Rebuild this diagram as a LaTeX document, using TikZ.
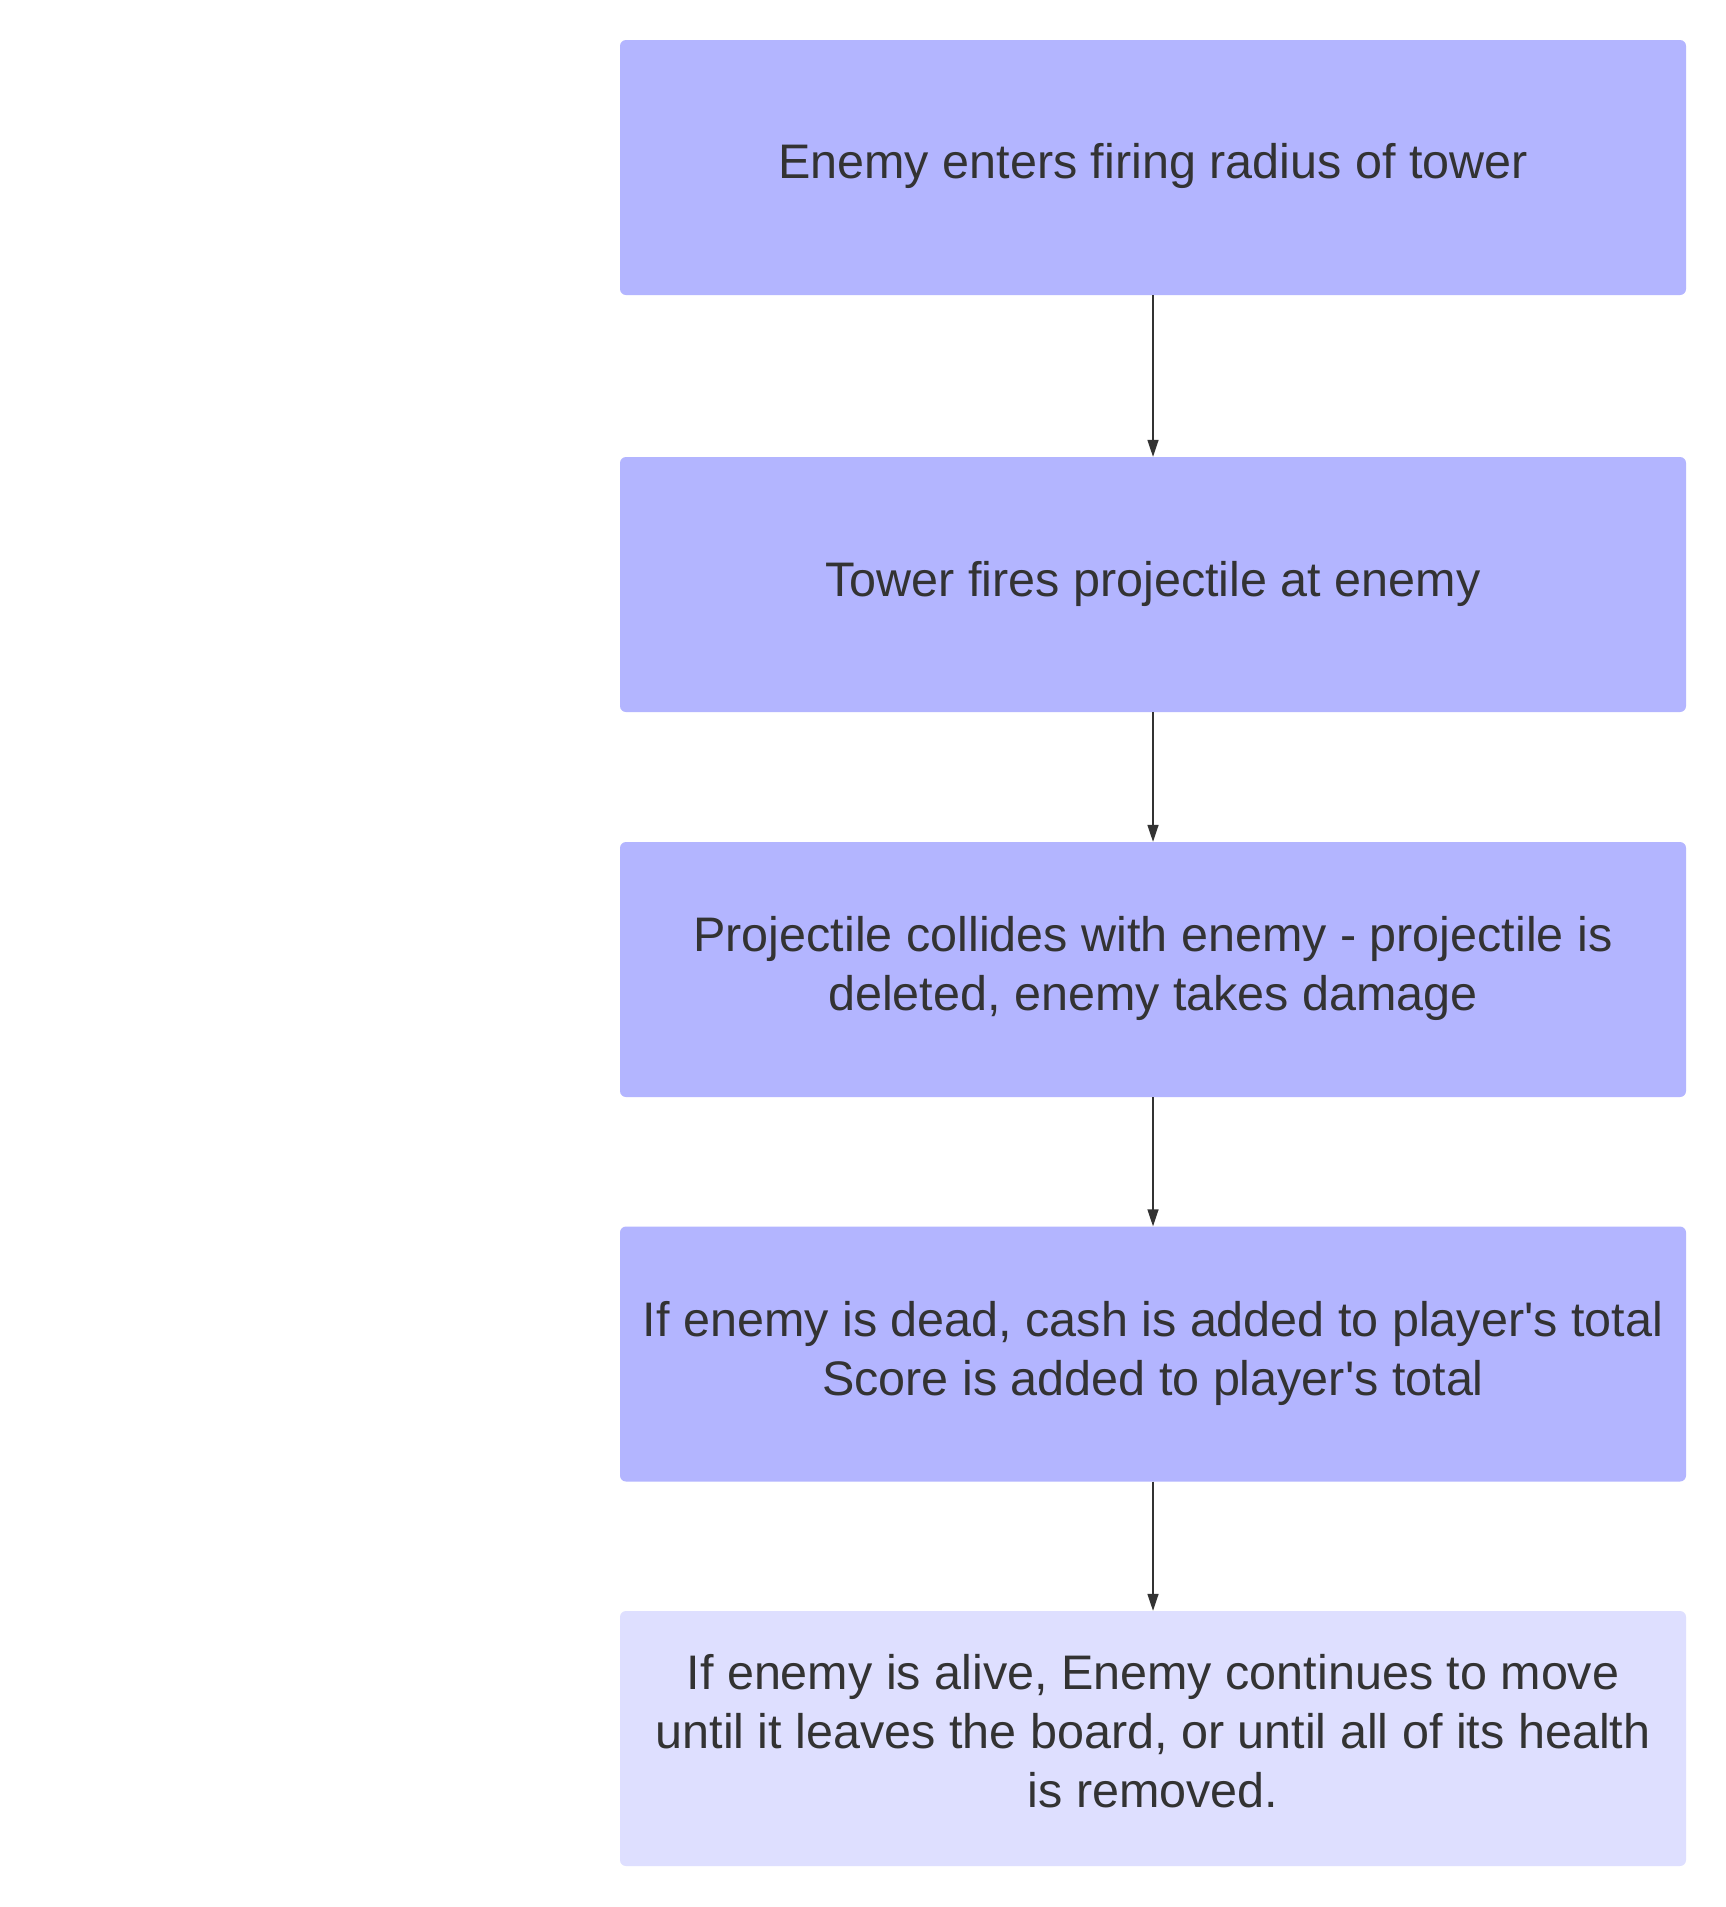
\documentclass[tikz,border=0pt]{standalone}
\usepackage{fontspec}
\setmainfont{Liberation Sans}
\usetikzlibrary{arrows.meta}
\definecolor{boxfill}{RGB}{179,181,255}
\definecolor{boxlight}{RGB}{222,223,255}
\definecolor{ink}{RGB}{51,51,51}
\newcommand{\aq}{\textquotesingle}
\tikzset{
  stepbox/.style={draw=none, fill=boxfill, rounded corners=6pt, minimum width=1066pt, minimum height=255pt, inner sep=0pt},
  lightbox/.style={stepbox, fill=boxlight},
  steptext/.style={inner sep=0pt, align=center, text=ink, font=\fontsize{48.5}{59}\selectfont},
  flow/.style={draw=ink, line width=1.6pt, -{Triangle[width=11pt,length=17pt]}}
}
\begin{document}
\begin{tikzpicture}[x=1pt,y=-1pt]
\useasboundingbox (0,0) rectangle (1726,1907);
\fill[white] (0,0) rectangle (1726,1907);
\node[stepbox] (b1) at (1153,167.5) {};
\node[stepbox] (b2) at (1153,584.5) {};
\node[stepbox] (b3) at (1153,969.5) {};
\node[stepbox] (b4) at (1153,1354) {};
\node[lightbox] (b5) at (1153,1738.5) {};
\node[steptext] (t1) at ([yshift=2pt]b1.center) {Enemy enters firing radius of tower};
\node[steptext] (t2) at ([yshift=1pt]b2.center) {Tower fires projectile at enemy};
\node[steptext] (t3) at ([yshift=1pt]b3.center) {Projectile collides with enemy - projectile is\\deleted, enemy takes damage};
\node[steptext] (t4) at ([yshift=1pt]b4.center) {If enemy is dead, cash is added to player\aq s total\\Score is added to player\aq s total};
\node[steptext] (t5) at ([yshift=7pt]b5.center) {If enemy is alive, Enemy continues to move\\until it leaves the board, or until all of its health\\is removed.};
\draw[flow] (b1.south) -- (b2.north);
\draw[flow] (b2.south) -- (b3.north);
\draw[flow] (b3.south) -- (b4.north);
\draw[flow] (b4.south) -- (b5.north);
\end{tikzpicture}
\end{document}
